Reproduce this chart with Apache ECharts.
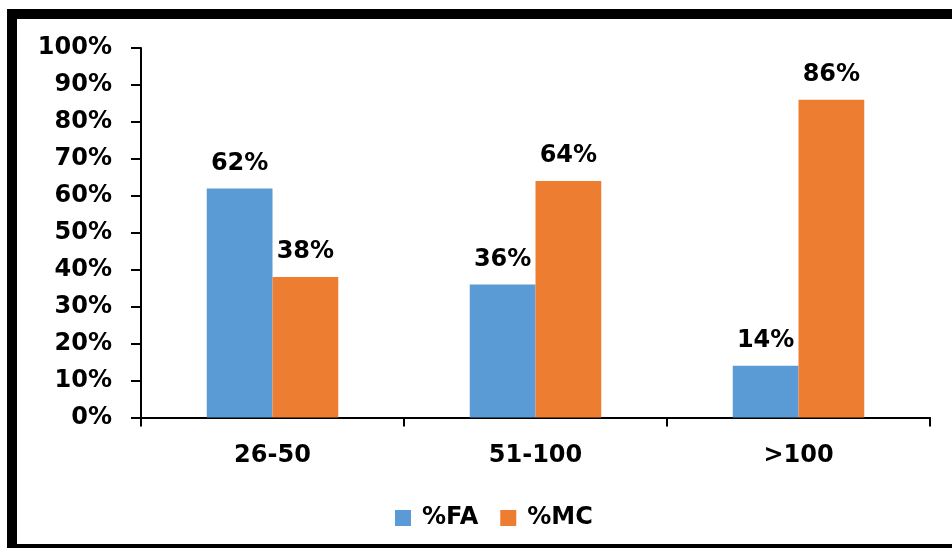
<!DOCTYPE html>
<html><head><meta charset="utf-8">
<script src="https://cdn.jsdelivr.net/npm/echarts@6/dist/echarts.min.js"></script>
<style>html,body{margin:0;padding:0;background:#fff;}#c{width:952px;height:548px;}</style>
</head><body><div id="c"></div>
<script>
const categories = ['26-50', '51-100', '>100'];
const seriesNames = ['%FA', '%MC'];
const faValues = [62, 36, 14];
const mcValues = [38, 64, 86];
const colors = ['#5B9BD5', '#ED7D31'];
const font = 'DejaVu Sans';
const chart = echarts.init(document.getElementById('c'));
const labelCfg = {show: true, position: 'top', distance: 13, color: '#000', fontFamily: font, fontWeight: 'bold', fontSize: 24, formatter: '{c}%'};
chart.setOption({
  animation: false,
  backgroundColor: '#fff',
  graphic: [{type: 'rect', shape: {x: 12, y: 14, width: 1000, height: 535}, style: {fill: 'none', stroke: '#000', lineWidth: 10}, z: 100}],
  grid: {left: 141, top: 48, right: 22, bottom: 130.5},
  legend: {data: seriesNames, left: 390, top: 501, itemWidth: 16, itemHeight: 16, itemGap: 22,
    icon: 'rect', textStyle: {fontFamily: font, fontWeight: 'bold', fontSize: 24, color: '#000', padding: [0, 0, 0, 6]}},
  xAxis: {type: 'category', data: categories,
    axisLine: {lineStyle: {color: '#000', width: 2}},
    axisTick: {show: true, length: 9, lineStyle: {color: '#000', width: 2}},
    axisLabel: {margin: 26, color: '#000', fontFamily: font, fontWeight: 'bold', fontSize: 24}},
  yAxis: {type: 'value', min: 0, max: 100, interval: 10,
    axisLine: {show: true, lineStyle: {color: '#000', width: 2}},
    axisTick: {show: true, length: 10, lineStyle: {color: '#000', width: 2}},
    splitLine: {show: false},
    axisLabel: {margin: 29, color: '#000', fontFamily: font, fontWeight: 'bold', fontSize: 24, formatter: '{value}%'}},
  series: [
    {name: seriesNames[0], type: 'bar', data: faValues, itemStyle: {color: colors[0]}, barGap: '0%', barCategoryGap: '50%', label: labelCfg},
    {name: seriesNames[1], type: 'bar', data: mcValues, itemStyle: {color: colors[1]}, barGap: '0%', barCategoryGap: '50%', label: labelCfg}
  ]
});
</script></body></html>
